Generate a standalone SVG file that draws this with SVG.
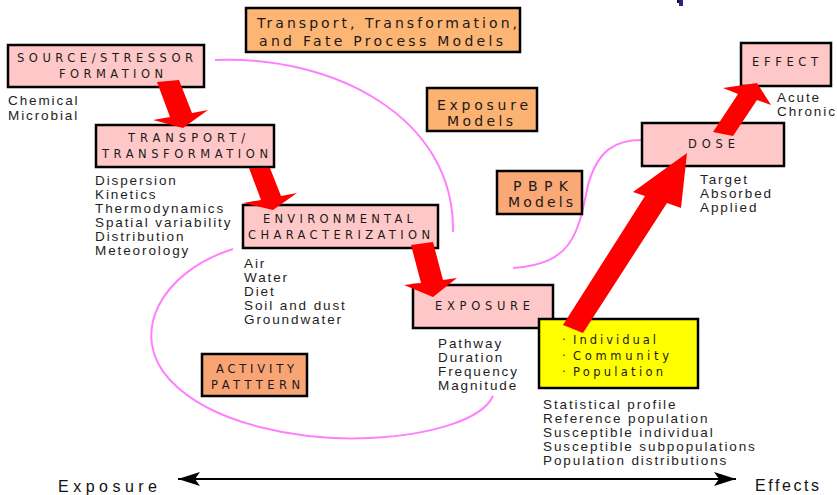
<svg xmlns="http://www.w3.org/2000/svg" width="837" height="495" viewBox="0 0 837 495">
<defs>
<style>
.pk{fill:#FFC8C8;stroke:#000;stroke-width:2.5}
.or{stroke:#000;stroke-width:2.5}
.yl{fill:#FFFF00;stroke:#000;stroke-width:2.5}
.bl{font-family:"DejaVu Sans",Verdana,sans-serif;font-size:11.5px;fill:#1a1a1a}
.ol{font-family:"DejaVu Sans",Verdana,sans-serif;font-size:14px;fill:#1a1a1a}
.ls{font-family:"Liberation Sans",Arial,sans-serif;font-size:13.5px;letter-spacing:1.9px;fill:#1e1e1e}
.ax{font-family:"Liberation Sans",Arial,sans-serif;font-size:16px;fill:#111}
.cv{fill:none;stroke:#FF80FF;stroke-width:2}
.ar{fill:#FF0000}
</style>
<marker id="ah" markerUnits="userSpaceOnUse" markerWidth="23" markerHeight="16" refX="22" refY="8" orient="auto-start-reverse">
<path d="M0,1 L22,8 L0,15 L5,8 z" fill="#000"/>
</marker>
</defs>
<rect width="837" height="495" fill="#fff"/>
<rect x="677" y="0" width="3" height="3" fill="#111"/>
<rect x="679" y="0" width="4" height="6" fill="#3a1a8a"/>

<g id="curves">
<path class="cv" d="M215,60 C330,55 455,115 453,232"/>
<path class="cv" d="M513,268 C572,264 578,235 588,185 C598,150 615,140 642,140"/>
<path class="cv" d="M233,249 C160,272 128,335 170,380 C212,425 300,441 370,438 C430,435 482,420 493,396"/>
</g>

<g id="model-tt">
<rect class="or" x="246" y="8" width="274" height="44" fill="#FDB573"/>
<text class="ol" x="257" y="28" textLength="260" lengthAdjust="spacing">Transport, Transformation,</text>
<text class="ol" x="259" y="46" textLength="244" lengthAdjust="spacing">and Fate Process Models</text>
</g>
<g id="model-exposure">
<rect class="or" x="427" y="88" width="110" height="43" fill="#FCB270"/>
<text class="ol" x="437" y="110" textLength="91" lengthAdjust="spacing">Exposure</text>
<text class="ol" x="447" y="126" textLength="66" lengthAdjust="spacing">Models</text>
</g>
<g id="model-pbpk">
<rect class="or" x="497" y="171" width="85" height="43" fill="#F9A876"/>
<text class="ol" x="513" y="191" textLength="55" lengthAdjust="spacing">PBPK</text>
<text class="ol" x="508" y="207" textLength="65" lengthAdjust="spacing">Models</text>
</g>
<g id="activity">
<rect class="or" x="202" y="354" width="105" height="42" fill="#F9A474"/>
<text class="bl" x="216" y="373" textLength="78" lengthAdjust="spacing">ACTIVITY</text>
<text class="bl" x="211" y="389" textLength="89" lengthAdjust="spacing">PATTTERN</text>
</g>

<g id="source">
<rect class="pk" x="8" y="45" width="196" height="42"/>
<text class="bl" x="17" y="62" textLength="176" lengthAdjust="spacing">SOURCE/STRESSOR</text>
<text class="bl" x="59" y="78" textLength="104" lengthAdjust="spacing">FORMATION</text>
<text class="ls" x="8" y="105">Chemical</text>
<text class="ls" x="8" y="120">Microbial</text>
</g>
<g id="transport">
<rect class="pk" x="96" y="125" width="178" height="42"/>
<text class="bl" x="128" y="142" textLength="117" lengthAdjust="spacing">TRANSPORT/</text>
<text class="bl" x="102" y="158" textLength="166" lengthAdjust="spacing">TRANSFORMATION</text>
<text class="ls" x="95" y="185">Dispersion</text>
<text class="ls" x="95" y="199">Kinetics</text>
<text class="ls" x="95" y="213">Thermodynamics</text>
<text class="ls" x="95" y="227">Spatial variability</text>
<text class="ls" x="95" y="241">Distribution</text>
<text class="ls" x="95" y="255">Meteorology</text>
</g>
<g id="environmental">
<rect class="pk" x="243" y="205" width="195" height="43"/>
<text class="bl" x="263" y="223" textLength="150" lengthAdjust="spacing">ENVIRONMENTAL</text>
<text class="bl" x="248" y="239" textLength="182" lengthAdjust="spacing">CHARACTERIZATION</text>
<text class="ls" x="244" y="268">Air</text>
<text class="ls" x="244" y="282">Water</text>
<text class="ls" x="244" y="296">Diet</text>
<text class="ls" x="244" y="310">Soil and dust</text>
<text class="ls" x="244" y="324">Groundwater</text>
</g>
<g id="exposure">
<rect class="pk" x="413" y="285" width="140" height="43"/>
<text class="bl" x="435" y="310" textLength="95" lengthAdjust="spacing">EXPOSURE</text>
<text class="ls" x="438" y="348">Pathway</text>
<text class="ls" x="438" y="362">Duration</text>
<text class="ls" x="438" y="376">Frequency</text>
<text class="ls" x="438" y="390">Magnitude</text>
</g>
<g id="population">
<rect class="yl" x="539" y="319" width="159" height="69"/>
<text class="bl" x="562" y="344">·</text>
<text class="bl" x="573" y="344" textLength="83" lengthAdjust="spacing">Individual</text>
<text class="bl" x="562" y="360">·</text>
<text class="bl" x="573" y="360" textLength="96" lengthAdjust="spacing">Community</text>
<text class="bl" x="562" y="376">·</text>
<text class="bl" x="573" y="376" textLength="90" lengthAdjust="spacing">Population</text>
<text class="ls" x="543" y="409">Statistical profile</text>
<text class="ls" x="543" y="423">Reference population</text>
<text class="ls" x="543" y="437">Susceptible individual</text>
<text class="ls" x="543" y="451">Susceptible subpopulations</text>
<text class="ls" x="543" y="465">Population distributions</text>
</g>
<g id="dose">
<rect class="pk" x="642" y="123" width="142" height="43"/>
<text class="bl" x="688" y="148" textLength="47" lengthAdjust="spacing">DOSE</text>
<text class="ls" x="700" y="184">Target</text>
<text class="ls" x="700" y="198">Absorbed</text>
<text class="ls" x="700" y="212">Applied</text>
</g>
<g id="effect">
<rect class="pk" x="741" y="43" width="90" height="43"/>
<text class="bl" x="752" y="66" textLength="66" lengthAdjust="spacing">EFFECT</text>
<text class="ls" x="777" y="102">Acute</text>
<text class="ls" x="777" y="116">Chronic</text>
</g>

<g id="connectors">
<polygon class="ar" points="157,82 170,117 153,120 183,128 208,110 192,113 179,80"/>
<polygon class="ar" points="249,168 261,200 243,203 273,210 297,193 281,196 270,168"/>
<polygon class="ar" points="411,245 421,283 404,285 433,297 457,278 443,280 433,242"/>
<polygon class="ar" points="563,325 645,196 633,192 687,153 681,208 667,203 583,333"/>
<polygon class="ar" points="713,132 738,94 723,88 757,83 771,105 757,100 733,136"/>
<line x1="178" y1="479" x2="736" y2="479" stroke="#000" stroke-width="2" marker-start="url(#ah)" marker-end="url(#ah)"/>
</g>

<g id="axis-labels">
<text class="ax" x="58" y="492" textLength="99" lengthAdjust="spacing">Exposure</text>
<text class="ax" x="755" y="491" textLength="64" lengthAdjust="spacing">Effects</text>
</g>
</svg>
